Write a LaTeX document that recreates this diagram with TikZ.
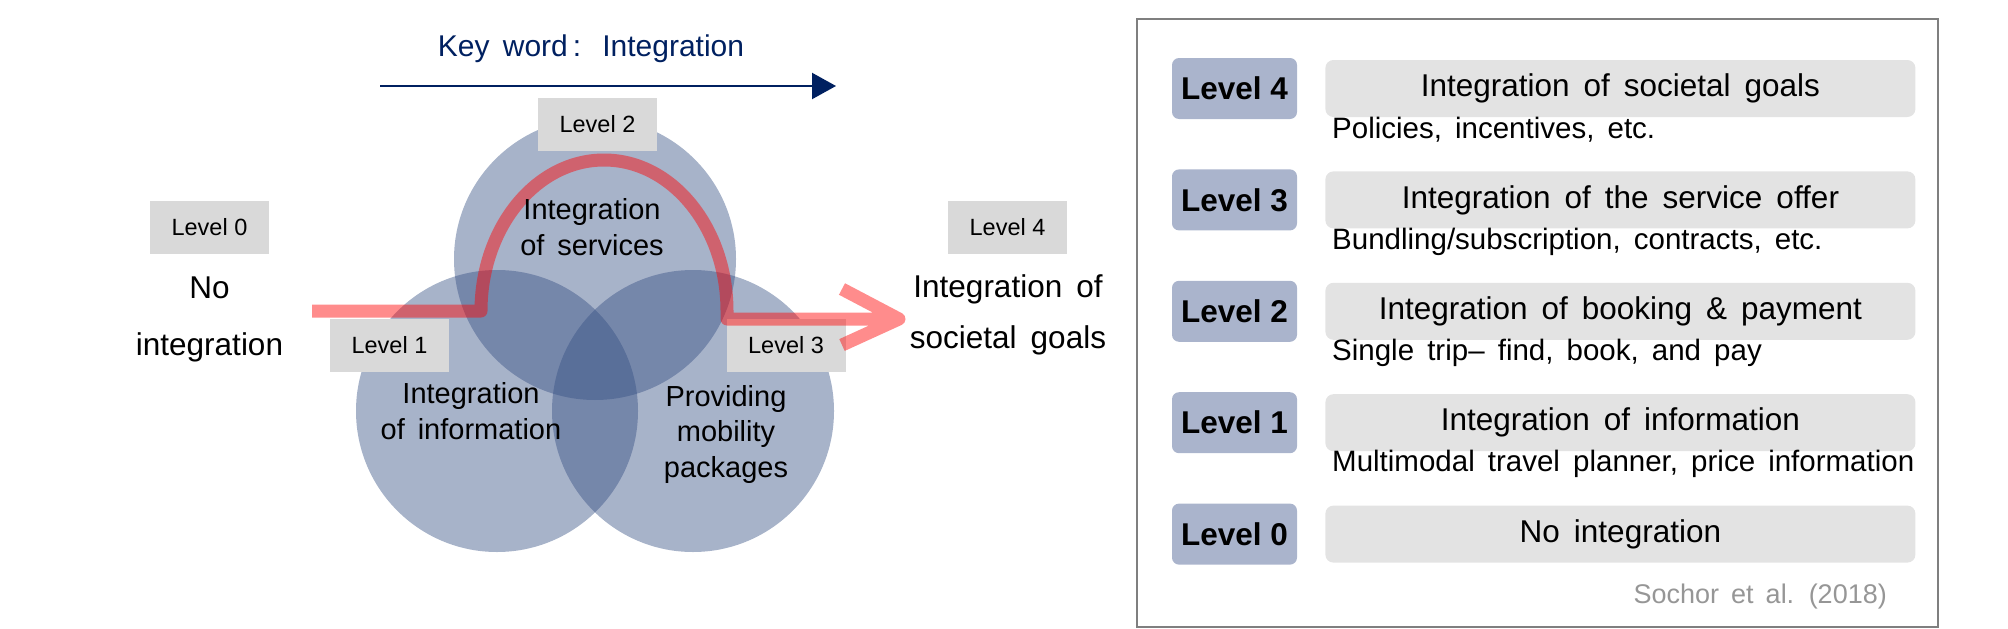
\documentclass[tikz,border=0pt]{standalone}
\usepackage{fontspec}
\setmainfont{Liberation Sans}[WordSpace=1.6]
\newfontfamily\tagfont{Liberation Sans}
\usetikzlibrary{positioning, arrows.meta}
\definecolor{vennblue}{RGB}{52,78,130}
\definecolor{flowred}{RGB}{255,0,0}
\definecolor{keynavy}{RGB}{0,32,96}
\definecolor{boxgray}{RGB}{217,217,217}
\definecolor{badgeblue}{RGB}{170,180,204}
\definecolor{bargray}{RGB}{227,227,227}
\definecolor{framegray}{RGB}{127,127,127}
\definecolor{citegray}{RGB}{150,150,150}
\tikzset{%
  venn/.style={circle, minimum size=282pt, inner sep=0pt, fill=vennblue, fill opacity=0.43},
  levelbox/.style={rectangle, fill=boxgray, minimum width=119pt, minimum height=53pt,
    inner sep=0pt, font=\tagfont\fontsize{23.5}{27}\selectfont},
  vennlabel/.style={align=center, anchor=base, inner sep=0pt, font=\fontsize{29}{35.5}\selectfont},
  biglabel/.style={align=center, anchor=base, inner sep=0pt, font=\fontsize{31.5}{57}\selectfont},
  flow/.style={draw=flowred, draw opacity=0.45, line width=13pt, line join=round},
  keyarrow/.style={draw=keynavy, line width=2.2pt, -{Triangle[length=24pt, width=26pt]}},
  panel/.style={draw=framegray, line width=2pt, minimum width=801pt, minimum height=608pt, inner sep=0pt},
  badge/.style={rectangle, rounded corners=7pt, fill=badgeblue, minimum width=125pt,
    minimum height=61pt, inner sep=0pt, font=\tagfont\bfseries\fontsize{31.5}{36}\selectfont},
  bar/.style={rectangle, rounded corners=8pt, fill=bargray, minimum width=590pt,
    minimum height=57pt, inner sep=0pt, font=\fontsize{31.5}{37}\selectfont},
  note/.style={anchor=base west, inner sep=0pt, font=\fontsize{29.5}{34}\selectfont},
}

\begin{document}
\begin{tikzpicture}[x=1pt, y=-1pt]
  \useasboundingbox (0,0) rectangle (2008,629);

  % key word arrow
  \node[anchor=base, inner sep=0pt, text=keynavy, font=\fontsize{30}{36}\selectfont] (keyword) at (591,56) {Key word\,:\, Integration};
  \coordinate (keystart) at (380,86);
  \coordinate (keyend) at (836,86);
  \draw[keyarrow] (keystart) -- (keyend);

  % venn circles
  \node[venn] (services) at (595,259) {};
  \node[venn] (information) at (497,411) {};
  \node[venn] (packages) at (693,411) {};

  % level tags
  \node[levelbox] (lvl0) at (209.5,227.5) {Level 0};
  \node[levelbox] (lvl1) at (389.5,345.5) {Level 1};
  \node[levelbox] (lvl2) at (597.5,124) {Level 2};
  \node[levelbox] (lvl3) at (786,345.5) {Level 3};
  \node[levelbox] (lvl4) at (1007.5,227.5) {Level 4};

  % path through the levels
  \coordinate (flowin) at (312,311);
  \coordinate (flowup) at (481,311);
  \coordinate (flowdown) at (727,319);
  \coordinate (flowtip) at (899,319);
  \draw[flow] (flowin) -- (flowup) arc[start angle=180, end angle=360, x radius=123, y radius=151]
    -- (flowdown) -- (flowtip) ++(-57,-30) -- (flowtip) -- ++(-57,26);

  % base anchor sits on the last line
  \node[vennlabel] (servicestext) at (592,255) {Integration\\of services};
  \node[vennlabel] (informationtext) at (471,439) {Integration\\of information};
  \node[vennlabel] (packagestext) at (726,477) {Providing\\mobility\\packages};
  \node[biglabel] (nointegration) at (209.5,355) {No\\integration};
  \node[biglabel, font=\fontsize{31.5}{51}\selectfont] (societal) at (1008,348) {Integration of\\societal goals};

  % level table
  \node[panel] (table) at (1537.5,323) {};
  \node[badge] (rank4) at (1234.5,88.5) {Level 4};
  \node[badge, below=50pt of rank4] (rank3) {Level 3};
  \node[badge, below=50pt of rank3] (rank2) {Level 2};
  \node[badge, below=50pt of rank2] (rank1) {Level 1};
  \node[badge, below=50pt of rank1] (rank0) {Level 0};

  \node[bar, right=28pt of rank4] (goal4) {Integration of societal goals};
  \node[bar, right=28pt of rank3] (goal3) {Integration of the service offer};
  \node[bar, right=28pt of rank2] (goal2) {Integration of booking \& payment};
  \node[bar, right=28pt of rank1] (goal1) {Integration of information};
  \node[bar, right=28pt of rank0] (goal0) {No integration};

  \node[note] (note4) at (1332,138) {Policies, incentives, etc.};
  \node[note] (note3) at (1332,249) {Bundling/subscription, contracts, etc.};
  \node[note] (note2) at (1332,360) {Single trip– find, book, and pay};
  \node[note] (note1) at (1332,471) {Multimodal travel planner, price information};

  \node[anchor=base east, inner sep=0pt, text=citegray, font=\fontsize{27}{32}\selectfont] (source) at (1887,603) {Sochor et al. (2018)};
\end{tikzpicture}
\end{document}
